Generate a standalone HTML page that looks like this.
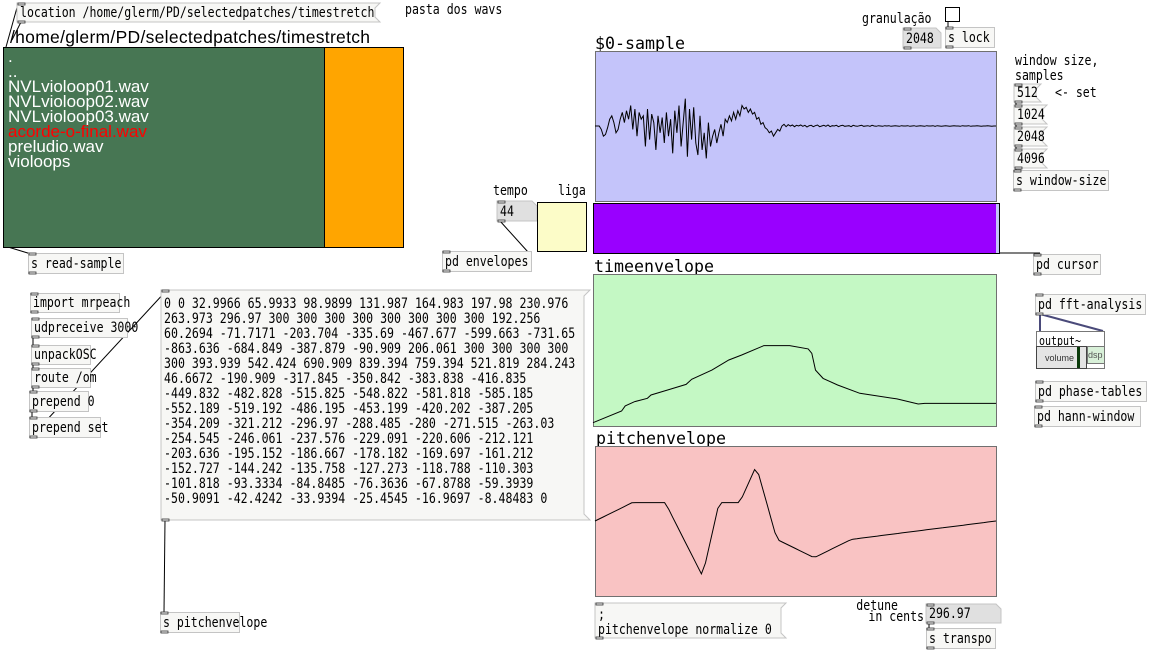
<!DOCTYPE html>
<html><head><meta charset="utf-8">
<style>
html,body{margin:0;padding:0;background:#fff;}
svg{display:block;}
.m{font-family:"DejaVu Sans Mono","Liberation Mono",monospace;fill:#000;}
.s{font-family:"Liberation Sans","DejaVu Sans",sans-serif;}
</style></head>
<body>
<svg id="patch" width="1156" height="652" viewBox="0 0 1156 652" xmlns="http://www.w3.org/2000/svg">
<rect width="1156" height="652" fill="#fff"/>
<g id="wires" stroke="#000" stroke-width="1" fill="none">
  <line x1="18" y1="4" x2="6" y2="47"/>
  <line x1="21" y1="22" x2="12" y2="40"/>
  <line x1="8" y1="247" x2="31" y2="254"/>
  <line x1="500" y1="221" x2="528" y2="252"/>
  <line x1="1000" y1="253" x2="1040" y2="253"/>
  <line x1="948" y1="22" x2="948" y2="28"/>
  <line x1="1016" y1="84" x2="1016" y2="171"/>
  <line x1="32" y1="436" x2="166" y2="291"/>
  <line x1="165" y1="520" x2="164" y2="612"/>
  <line x1="929" y1="623" x2="929" y2="629"/>
  <line x1="33" y1="337" x2="33" y2="345"/>
  <line x1="33" y1="364" x2="33" y2="369"/>
  <line x1="33" y1="387" x2="33" y2="392"/>
  <line x1="32" y1="411" x2="32" y2="418"/>
  <line x1="1040" y1="314" x2="1040" y2="331" stroke="#4a4a7a" stroke-width="2"/>
  <line x1="1040" y1="314" x2="1103" y2="331" stroke="#4a4a7a" stroke-width="2"/>
</g>
<g id="boxes"></g>
<g id="graphs"></g>
</svg>
<script>
// ---- chart data ----
const sampleValues = [0,0,0,-0.1,-0.3,-0.25,-0.05,0.2,0.3,0.1,-0.2,-0.1,0.2,0.4,0.1,0.45,0.2,0.6,-0.1,0.5,-0.3,0.4,0.2,0.3,-0.6,0.5,-0.4,0.35,0.1,-0.7,0.3,-0.2,0.25,-0.5,0.4,-0.3,0.2,-0.8,0.45,-0.2,0.6,-0.6,0.1,0.8,-0.9,0.5,-0.4,0.55,-0.5,-0.85,0.3,-0.7,-0.2,-0.95,0.1,-0.6,-0.3,-0.1,-0.5,-0.2,0.05,-0.3,0.2,0.1,0.3,0.15,0.4,0.2,0.45,0.3,0.6,0.5,0.55,0.4,0.5,0.35,0.4,0.2,0.25,0.05,0.1,-0.05,-0.1,-0.2,-0.15,-0.3,-0.2,-0.1,-0.15,0.0,0.05,-0.02,0.04,0.0,0.03,-0.02,0.02,0.0,0.03,-0.01,0.02,-0.03,0.01,0.02,-0.02,0.01,0.03,-0.02,0.0,0.02,-0.01,0.03,-0.02,0.01,0.0,0.02,-0.02,0.01,0.02,-0.01,0.0,0.01,-0.02,0.02,0.0,-0.01,0.01,0.02,-0.01,0.0,0.01,-0.01,0.02,0.0,-0.01,0.01,0.0,-0.01,0.01,0.0,0.01,-0.01,0.0,0.01,0.0,-0.01,0.01,0.0,0.0,0.01,-0.01,0.0,0.01,-0.01,0.0,0.01,0.0,-0.01,0.01,0.0,0.0,0.01,-0.01,0.01,0.0,-0.01,0.0,0.01,0.0,-0.01,0.0,0.01,0.0,0.0,-0.01,0.01,0.0,0.0,0.01,-0.01,0.0,0.0,0.01,0.0,-0.01,0.0,0.0,0.01,0.0,-0.01,0.0,0.0];
const timeX = [0,0.071,0.080,0.103,0.135,0.144,0.185,0.231,0.245,0.295,0.337,0.369,0.424,0.488,0.534,0.543,0.552,0.571,0.607,0.662,0.754,0.807,0.823,1];
const timeY = [0.022,0.099,0.132,0.160,0.182,0.204,0.237,0.274,0.307,0.368,0.434,0.467,0.529,0.529,0.507,0.478,0.368,0.313,0.270,0.215,0.178,0.145,0.149,0.149];
const pitchValues = [0,32.9966,65.9933,98.9899,131.987,164.983,197.98,230.976,263.973,296.97,300,300,300,300,300,300,300,300,192.256,60.2694,-71.7171,-203.704,-335.69,-467.677,-599.663,-731.65,-863.636,-684.849,-387.879,-90.909,206.061,300,300,300,300,300,393.939,542.424,690.909,839.394,759.394,521.819,284.243,46.6672,-190.909,-317.845,-350.842,-383.838,-416.835,-449.832,-482.828,-515.825,-548.822,-581.818,-585.185,-552.189,-519.192,-486.195,-453.199,-420.202,-387.205,-354.209,-321.212,-296.97,-288.485,-280,-271.515,-263.03,-254.545,-246.061,-237.576,-229.091,-220.606,-212.121,-203.636,-195.152,-186.667,-178.182,-169.697,-161.212,-152.727,-144.242,-135.758,-127.273,-118.788,-110.303,-101.818,-93.3334,-84.8485,-76.3636,-67.8788,-59.3939,-50.9091,-42.4242,-33.9394,-25.4545,-16.9697,-8.48483,0];
const fileList = [".","..","NVLvioloop01.wav","NVLvioloop02.wav","NVLvioloop03.wav","acorde-o-final.wav","preludio.wav","violoops"];
const msgLines = ["0 0 32.9966 65.9933 98.9899 131.987 164.983 197.98 230.976","263.973 296.97 300 300 300 300 300 300 300 300 192.256","60.2694 -71.7171 -203.704 -335.69 -467.677 -599.663 -731.65","-863.636 -684.849 -387.879 -90.909 206.061 300 300 300 300","300 393.939 542.424 690.909 839.394 759.394 521.819 284.243","46.6672 -190.909 -317.845 -350.842 -383.838 -416.835","-449.832 -482.828 -515.825 -548.822 -581.818 -585.185","-552.189 -519.192 -486.195 -453.199 -420.202 -387.205","-354.209 -321.212 -296.97 -288.485 -280 -271.515 -263.03","-254.545 -246.061 -237.576 -229.091 -220.606 -212.121","-203.636 -195.152 -186.667 -178.182 -169.697 -161.212","-152.727 -144.242 -135.758 -127.273 -118.788 -110.303","-101.818 -93.3334 -84.8485 -76.3636 -67.8788 -59.3939","-50.9091 -42.4242 -33.9394 -25.4545 -16.9697 -8.48483 0"];

const NS="http://www.w3.org/2000/svg";
const B=document.getElementById('boxes');
const G=document.getElementById('graphs');
const MS=14;
function el(tag,attrs,parent){const e=document.createElementNS(NS,tag);for(const k in attrs)e.setAttribute(k,attrs[k]);(parent||B).appendChild(e);return e;}
function mono(parent,x,y,s,size,cw,anchor){const t=el('text',{x:x,y:y,class:'m',style:'font-size:'+size+'px',textLength:(s.length*cw).toFixed(1),lengthAdjust:'spacingAndGlyphs'},parent);
if(anchor)t.setAttribute('text-anchor',anchor);
t.textContent=s;return t;}
function txt(x,y,s,name,size,cw,anchor){const t=mono(B,x,y,s,size||MS,cw||6.95,anchor);


return t;}
function inlet(x,y){el('rect',{x:x,y:y,width:7,height:2,fill:'#f0f0f0',stroke:'#333','stroke-width':0.8});}
function obj(x,y,w,h,label,name){const g=el('g',{});


el('rect',{x:x+0.5,y:y+0.5,width:w,height:h,fill:'#f7f7f5',stroke:'#c4c4c4'},g);
mono(g,x+3,y+h-5,label,MS,6.95);
inlet(x+1,y);inlet(x+1,y+h-1);}
function msg(x,y,w,h,label,name){const g=el('g',{});


el('polygon',{points:`${x},${y} ${x+w+5},${y} ${x+w},${y+5} ${x+w},${y+h-5} ${x+w+5},${y+h} ${x},${y+h}`,fill:'#f7f7f5',stroke:'#c4c4c4'},g);
mono(g,x+3,y+h-5,label,MS,6.95);
inlet(x+1,y);inlet(x+1,y+h-1);}
function num(x,y,w,h,label,name){const g=el('g',{});


el('polygon',{points:`${x},${y} ${x+w-5},${y} ${x+w},${y+5} ${x+w},${y+h} ${x},${y+h}`,fill:'#e0e0e0',stroke:'#c4c4c4'},g);
mono(g,x+3,y+h-5,label,MS,6.95);
inlet(x+1,y);inlet(x+1,y+h-1);}

// file browser
msg(17,3,358,19,"location /home/glerm/PD/selectedpatches/timestretch","location-message");
txt(405,14,"pasta dos wavs","comment-pasta-dos-wavs");
{const t=el('text',{x:10,y:43,class:'s','font-size':17.5,textLength:360});t.textContent="/home/glerm/PD/selectedpatches/timestretch";

}
{const r=el('rect',{x:3.5,y:47.5,width:321,height:200,fill:'#477653',stroke:'#000'});

}
{const r=el('rect',{x:324.5,y:47.5,width:79,height:200,fill:'#ffa500',stroke:'#000'});

}
fileList.forEach((f,i)=>{const t=el('text',{x:8,y:62+i*15,class:'s','font-size':17,fill:f==='acorde-o-final.wav'?'#ff0000':'#ffffff'});t.textContent=f;

});
obj(28,253,95,20,"s read-sample","s-read-sample");

// tempo / liga
txt(493,195,"tempo","tempo-label");
num(497,201,40,20,"44","tempo-number");
txt(558,195,"liga","liga-label");
{const r=el('rect',{x:537.5,y:202.5,width:49,height:49,fill:'#fcfcc8',stroke:'#000'});

}
obj(442,251,89,20,"pd envelopes","pd-envelopes");

// sample graph
txt(595,49,"$0-sample","sample-array-title",17,10);
const sX=595,sW=401,sY=51,sH=150;
{const r=el('rect',{x:sX+0.5,y:sY+0.5,width:sW,height:sH,fill:'#c4c4fa',stroke:'#707070'},G);

}
function sxs(i){return sX+i*sW/(sampleValues.length-1);}
function sys(v){return sY+sH/2-v*(sH/2)/2.2;}
{const p=el('polyline',{points:sampleValues.map((v,i)=>sxs(i).toFixed(1)+','+sys(v).toFixed(1)).join(' '),fill:'none',stroke:'#000','stroke-width':1},G);

}
{const r=el('rect',{x:593.5,y:203.5,width:406,height:50,fill:'#9900ff',stroke:'#000'});

}
el('rect',{x:996,y:204,width:3,height:49,fill:'#c4c4fa'});
obj(1033,254,67,20,"pd cursor","pd-cursor");

txt(862,23,"granulação","granulacao-label");
{const r=el('rect',{x:945.5,y:7.5,width:14,height:14,fill:'#fff',stroke:'#000'});

}
num(903,28,38,20,"2048","granulation-number");
obj(945,27,49,20,"s lock","s-lock");

txt(1015,65,"window size,","window-size-label");
txt(1015,80,"samples","samples-label");
msg(1014,84,22,18,"512","msg-512");
txt(1055,97,"<- set","set-hint-label");
msg(1014,105,28,19,"1024","msg-1024");
msg(1014,127,28,19,"2048","msg-2048");
msg(1014,149,28,19,"4096","msg-4096");
obj(1013,170,95,20,"s window-size","s-window-size");

// time envelope
txt(594,272,"timeenvelope","timeenvelope-title",17,10);
const tX=593,tW=403,tY=274,tH=152;
{const r=el('rect',{x:tX+0.5,y:tY+0.5,width:tW,height:tH,fill:'#c4f8c4',stroke:'#707070'},G);

}
function txs(f){return tX+f*tW;}
function tys(v){return tY+tH-v*tH;}
{const p=el('polyline',{points:timeX.map((f,i)=>txs(f).toFixed(1)+','+tys(timeY[i]).toFixed(1)).join(' '),fill:'none',stroke:'#000','stroke-width':1},G);

}

// pitch envelope
txt(596,444,"pitchenvelope","pitchenvelope-title",17,10);
const pX=595,pW=401,pY=446,pH=150,pMax=1225;
{const r=el('rect',{x:pX+0.5,y:pY+0.5,width:pW,height:pH,fill:'#f9c3c3',stroke:'#707070'},G);

}
function pxs(i){return pX+i*pW/(pitchValues.length-1);}
function pys(v){return pY+pH/2-v*(pH/2)/pMax;}
{const p=el('polyline',{points:pitchValues.map((v,i)=>pxs(i).toFixed(1)+','+pys(v).toFixed(1)).join(' '),fill:'none',stroke:'#000','stroke-width':1},G);

}

// normalize msg
{const g=el('g',{});


el('polygon',{points:"595,603 786,603 781,608 781,633 786,638 595,638",fill:'#f7f7f5',stroke:'#c4c4c4'},g);
inlet(596,603);inlet(596,637);
mono(g,598,619,";",MS,6.95);
mono(g,598,634,"pitchenvelope normalize 0",MS,6.95);}
txt(898,610,"detune","detune-label",MS,6.95,'end');
txt(924,621,"in cents","in-cents-label",MS,6.95,'end');
num(926,604,75,19,"296.97","detune-number");
obj(926,628,69,20,"s transpo","s-transpo");

// right side subpatches
obj(1035,294,110,20,"pd fft-analysis","pd-fft-analysis");
{const g=el('g',{});


el('rect',{x:1036.5,y:331.5,width:68,height:37,fill:'#fff',stroke:'#777'},g);
mono(g,1039,345,"output~",12,6);
el('rect',{x:1036.5,y:346.5,width:50,height:22,fill:'#e4e4e4',stroke:'#444'},g);
const v=el('text',{x:1045,y:361,class:'s','font-size':9,fill:'#333'},g);v.textContent="volume";
el('rect',{x:1077,y:347,width:3,height:21,fill:'#0a3a0a'},g);
el('rect',{x:1087.5,y:346.5,width:17,height:17,fill:'#d8f0d8',stroke:'#777'},g);
const d=el('text',{x:1088,y:358,class:'s','font-size':9,fill:'#555'},g);d.textContent="dsp";}
obj(1035,381,111,20,"pd phase-tables","pd-phase-tables");
obj(1034,406,106,20,"pd hann-window","pd-hann-window");

// left OSC chain
obj(30,293,89,19,"import mrpeach","import-mrpeach");
obj(31,318,96,19,"udpreceive 3000","udpreceive-3000");
obj(31,345,59,19,"unpackOSC","unpackosc");
obj(31,368,59,19,"route /om","route-om");
obj(29,391,59,20,"prepend 0","prepend-0");
obj(29,417,71,20,"prepend set","prepend-set");

// big data message
{const g=el('g',{});


el('polygon',{points:"161,290 590,290 584,296 584,514 590,520 161,520",fill:'#f7f7f5',stroke:'#c4c4c4'},g);
inlet(162,290);inlet(162,519);
msgLines.forEach((l,i)=>{mono(g,164,308+i*15,l,MS,6.97);});}
obj(160,612,79,20,"s pitchenvelope","s-pitchenvelope");
</script>
</body></html>
